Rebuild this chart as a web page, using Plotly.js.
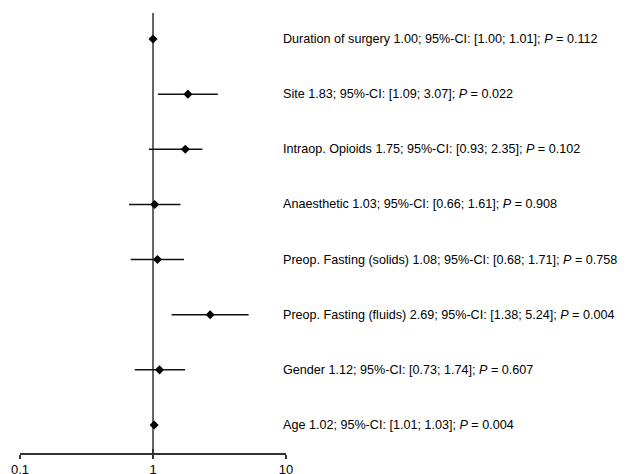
<!DOCTYPE html>
<html>
<head>
<meta charset="utf-8">
<script src="https://cdn.plot.ly/plotly-3.0.1.min.js"></script>
<style>html,body{margin:0;padding:0;background:#fff;}#chart{width:627px;height:474px;}</style>
</head>
<body>
<div id="chart"></div>
<script>
const labels = ["Duration of surgery", "Site", "Intraop. Opioids", "Anaesthetic", "Preop. Fasting (solids)", "Preop. Fasting (fluids)", "Gender", "Age"];
const estimates = [1.00, 1.83, 1.75, 1.03, 1.08, 2.69, 1.12, 1.02];
const lower = [1.00, 1.09, 0.93, 0.66, 0.68, 1.38, 0.73, 1.01];
const upper = [1.01, 3.07, 2.35, 1.61, 1.71, 5.24, 1.74, 1.03];
const pvalues = ["0.112", "0.022", "0.102", "0.908", "0.758", "0.004", "0.607", "0.004"];
const tickVals = [0.1, 1, 10];
const tickText = ["0.1", "1", "10"];

const n = labels.length;
const ypos = labels.map((_, i) => n - i);

const trace = {
  type: "scatter",
  mode: "markers",
  x: estimates,
  y: ypos,
  marker: {symbol: "diamond", size: 7, color: "#000"},
  error_x: {
    type: "data",
    symmetric: false,
    array: estimates.map((e, i) => upper[i] - e),
    arrayminus: estimates.map((e, i) => e - lower[i]),
    color: "#111",
    thickness: 1.5,
    width: 0
  },
  hoverinfo: "none",
  cliponaxis: false
};

const annotations = labels.map((l, i) => ({
  xref: "paper", yref: "y",
  x: 0.982, y: ypos[i],
  xanchor: "left", yanchor: "middle",
  showarrow: false,
  text: l + " " + estimates[i].toFixed(2) + "; 95%-CI: [" + lower[i].toFixed(2) + "; " + upper[i].toFixed(2) + "]; <i>P</i> = " + pvalues[i],
  font: {family: "Liberation Sans, Arial, sans-serif", size: 12.6, color: "#000"}
}));

const layout = {
  width: 627, height: 474,
  margin: {l: 20, r: 341, t: 13, b: 21, pad: 0},
  paper_bgcolor: "#fff", plot_bgcolor: "#fff",
  showlegend: false,
  xaxis: {
    type: "log", range: [-1, 1],
    tickvals: tickVals, ticktext: tickText,
    ticks: "outside", ticklen: 4, tickwidth: 1.5, tickcolor: "#333",
    showline: true, linecolor: "#333", linewidth: 1.5,
    showgrid: false, zeroline: false,
    tickfont: {family: "Liberation Sans, Arial, sans-serif", size: 13, color: "#000"},
    fixedrange: true
  },
  xaxis2: {
    type: "log", range: [-1, 1], overlaying: "x", side: "bottom",
    tickvals: tickVals,
    ticks: "inside", ticklen: 4, tickwidth: 1.5, tickcolor: "#333",
    showticklabels: false, showline: false, showgrid: false, zeroline: false
  },
  yaxis: {
    range: [0.4922, 8.4715],
    visible: false, showgrid: false, zeroline: false, fixedrange: true
  },
  shapes: [{
    type: "line", xref: "x", yref: "paper",
    x0: 1, x1: 1, y0: 0, y1: 1,
    line: {color: "#333", width: 1.5},
    layer: "below"
  }],
  annotations: annotations
};

const dummy = {type: "scatter", x: [1], y: [1], xaxis: "x2", mode: "markers", marker: {opacity: 0}, hoverinfo: "none"};

Plotly.newPlot("chart", [trace, dummy], layout, {displayModeBar: false, staticPlot: true});
</script>
</body>
</html>
